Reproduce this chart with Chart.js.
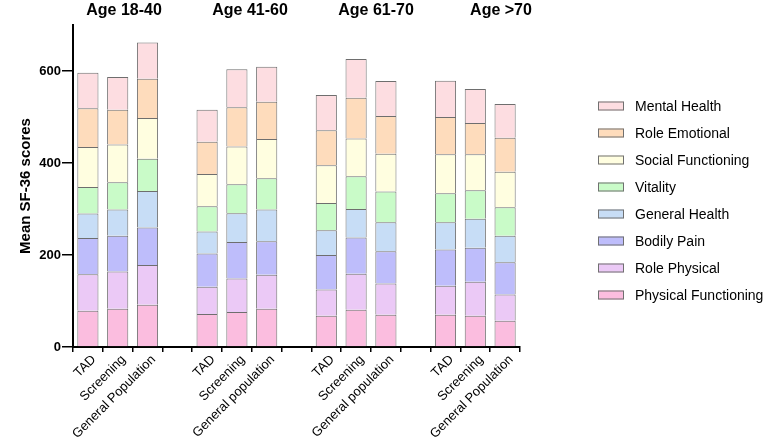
<!DOCTYPE html>
<html>
<head>
<meta charset="utf-8">
<script src="https://cdn.jsdelivr.net/npm/chart.js@4"></script>
<style>
  body { margin: 0; background: #fff; }
  #wrap { width: 769px; height: 445px; position: relative; }
</style>
</head>
<body>
<div id="wrap"><canvas id="chartSF36"></canvas></div>
<script>
// ── Données ──────────────────────────────────────────────
const groups = ['Age 18-40', 'Age 41-60', 'Age 61-70', 'Age >70'];
const cohorts = [
  ['TAD', 'Screening', 'General Population'],
  ['TAD', 'Screening', 'General population'],
  ['TAD', 'Screening', 'General population'],
  ['TAD', 'Screening', 'General Population']
];
const yTicks = [0, 200, 400, 600];

const physicalFunctioning = [79, 83, 92, 72, 76, 83, 68, 81, 70, 70, 68, 57];
const rolePhysical        = [79, 81, 86, 59, 73, 74, 57, 78, 68, 63, 74, 57];
const bodilyPain          = [79, 78, 82, 72, 79, 73, 75, 79, 70, 79, 74, 70];
const generalHealth       = [53, 57, 79, 48, 63, 69, 54, 62, 63, 59, 63, 58];
const vitality            = [58, 59, 70, 55, 63, 68, 59, 71, 67, 63, 62, 62];
const socialFunctioning   = [87, 82, 89, 70, 82, 85, 82, 82, 82, 85, 78, 77];
const roleEmotional       = [84, 76, 85, 70, 85, 81, 76, 89, 82, 81, 68, 74];
const mentalHealth        = [77, 71, 79, 70, 83, 76, 77, 84, 76, 79, 74, 73];

// ── Catégories avec un emplacement vide entre les groupes ──
const labels = [];
cohorts.forEach((c, i) => {
  labels.push(...c);
  if (i < cohorts.length - 1) labels.push('');
});
const spread = (vals) => {
  const out = [];
  vals.forEach((v, i) => {
    out.push(v);
    if (i % 3 === 2 && i < vals.length - 1) out.push(null);
  });
  return out;
};

const series = [
  { label: 'Physical Functioning', data: physicalFunctioning, color: '#fbbddf' },
  { label: 'Role Physical',        data: rolePhysical,        color: '#ebc9f6' },
  { label: 'Bodily Pain',          data: bodilyPain,          color: '#bebdfb' },
  { label: 'General Health',       data: generalHealth,       color: '#c7ddf6' },
  { label: 'Vitality',             data: vitality,            color: '#c9fbc8' },
  { label: 'Social Functioning',   data: socialFunctioning,   color: '#fffee0' },
  { label: 'Role Emotional',       data: roleEmotional,       color: '#fedcbc' },
  { label: 'Mental Health',        data: mentalHealth,        color: '#fddde1' }
];

const FONT = '"Liberation Sans", Arial, sans-serif';

// ── Titres de groupes + légende ───────────────────────────
const groupTitleX = [124, 250, 376, 501];
const overlay = {
  id: 'overlay',
  afterDraw(chart) {
    const ctx = chart.ctx;
    ctx.save();
    ctx.fillStyle = '#000';
    ctx.font = 'bold 16px ' + FONT;
    ctx.textAlign = 'center';
    ctx.textBaseline = 'middle';
    groups.forEach((g, i) => ctx.fillText(g, groupTitleX[i], 11));

    ctx.font = '14px ' + FONT;
    ctx.textAlign = 'left';
    const ds = chart.data.datasets.slice().reverse();
    ds.forEach((d, i) => {
      const y = 106 + i * 27;
      ctx.fillStyle = d.backgroundColor;
      ctx.fillRect(598, y - 4.5, 26, 9);
      ctx.strokeStyle = '#707070';
      ctx.lineWidth = 1;
      ctx.strokeRect(598.5, y - 4, 25, 8);
      ctx.fillStyle = '#000';
      ctx.fillText(d.label, 635, y + 1);
    });
    ctx.restore();
  }
};

new Chart(document.getElementById('chartSF36'), {
  type: 'bar',
  data: {
    labels: labels,
    datasets: series.map(s => ({
      label: s.label,
      data: spread(s.data),
      backgroundColor: s.color,
      borderColor: '#6e6e6e',
      borderWidth: 1,
      barPercentage: 0.71,
      categoryPercentage: 1.0
    }))
  },
  options: {
    responsive: true,
    maintainAspectRatio: false,
    animation: false,
    layout: { padding: { top: 25, right: 249, left: 0, bottom: 0 } },
    plugins: { legend: { display: false }, tooltip: { enabled: false } },
    scales: {
      x: {
        stacked: true,
        grid: { drawOnChartArea: false, drawTicks: true, tickLength: 5, color: '#000', lineWidth: 1.5 },
        border: { color: '#000', width: 2 },
        ticks: {
          autoSkip: false, maxRotation: 45, minRotation: 45, padding: 0, labelOffset: 6,
          color: '#000', font: { size: 13, family: FONT }
        },
        afterFit: (s) => { s.height = 98; }
      },
      y: {
        stacked: true,
        min: 0, max: 700,
        grid: { drawOnChartArea: false, drawTicks: true, tickLength: 11, color: '#000', lineWidth: 1.5 },
        border: { color: '#000', width: 2 },
        ticks: {
          stepSize: 200, padding: 1,
          color: '#000', font: { size: 13, weight: 'bold', family: FONT }
        },
        afterBuildTicks: (s) => { s.ticks = yTicks.map(v => ({ value: v })); },
        title: {
          display: true, text: 'Mean SF-36 scores', color: '#000',
          font: { size: 15, weight: 'bold', family: FONT },
          padding: { top: 17, bottom: 0 }
        },
        afterFit: (s) => { s.width = 73; }
      }
    }
  },
  plugins: [overlay]
});
</script>
</body>
</html>
